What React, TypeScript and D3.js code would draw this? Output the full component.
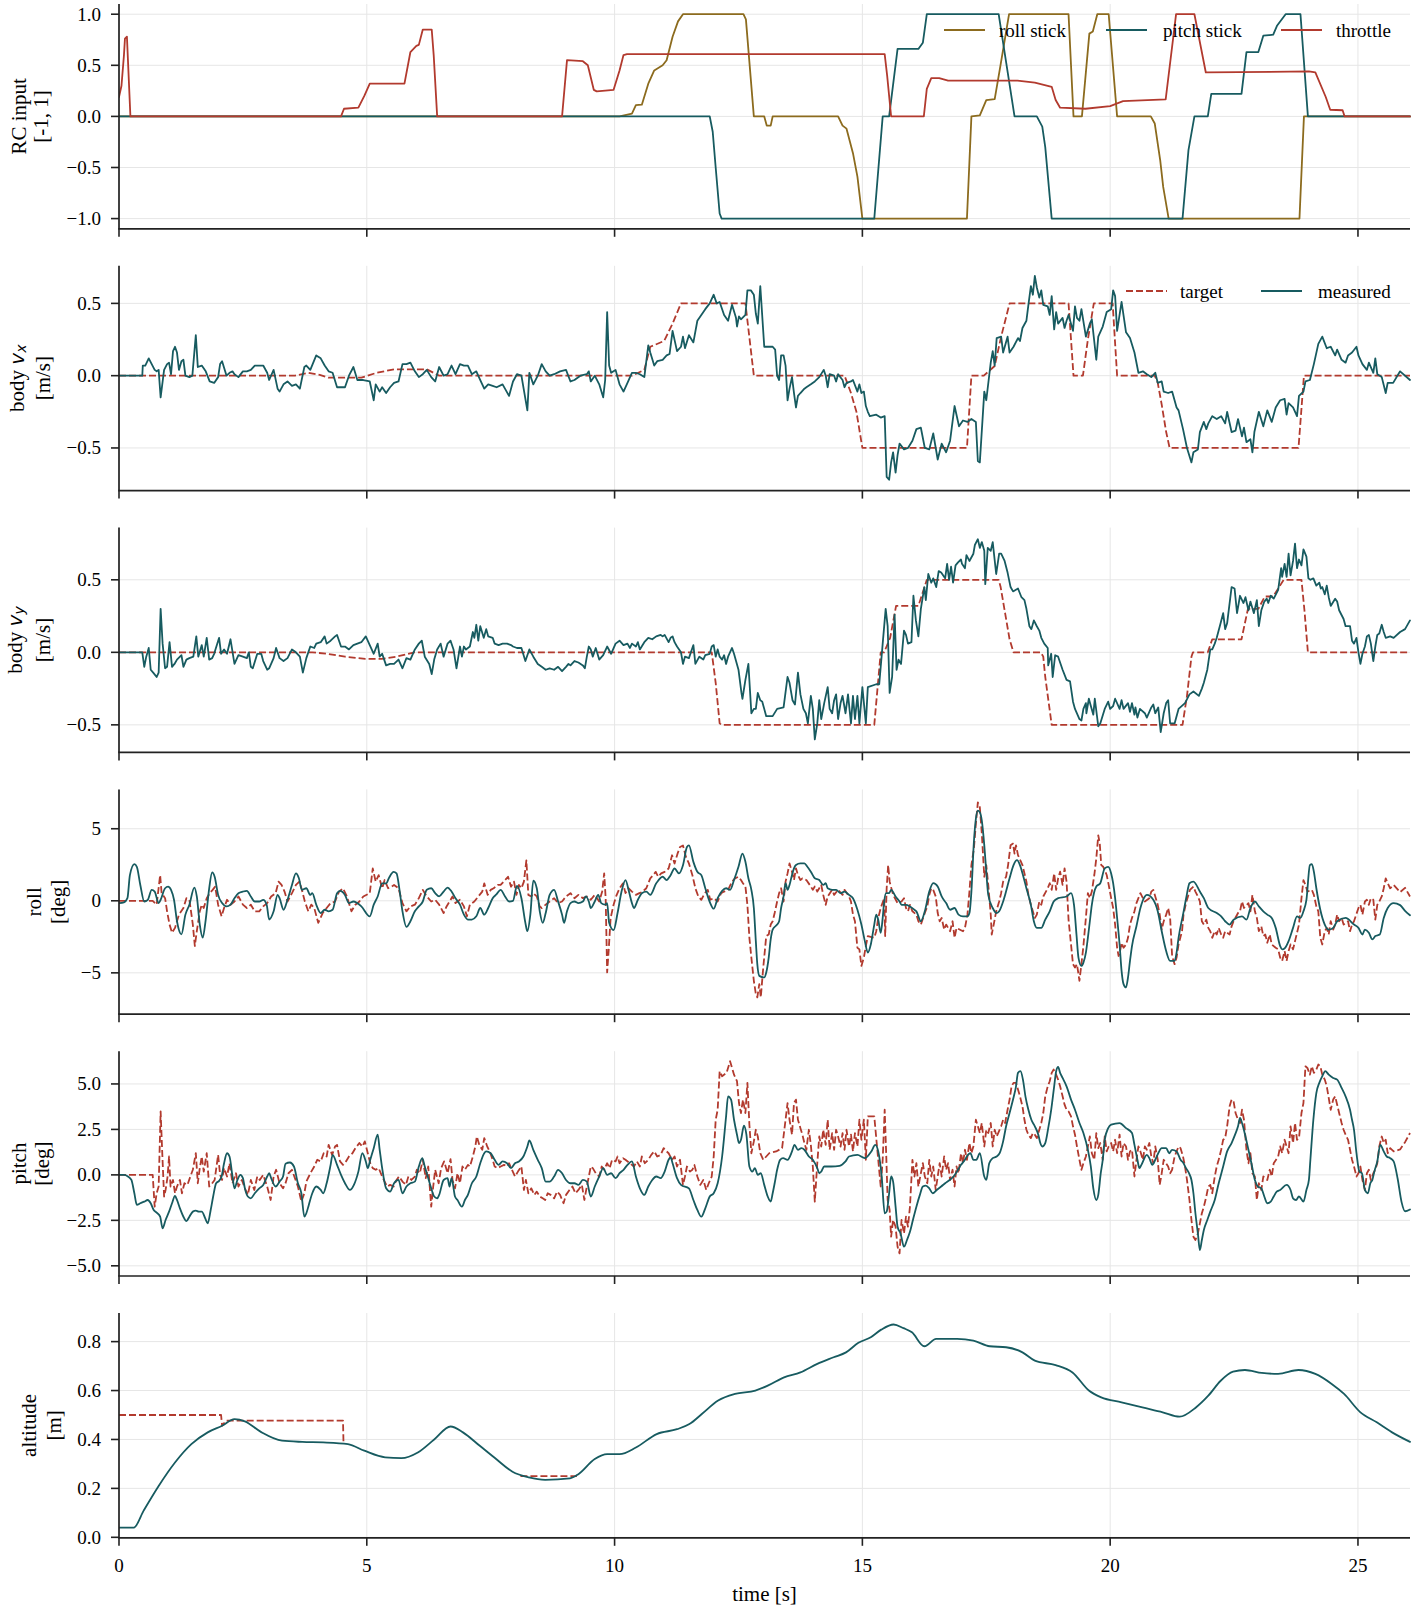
import React from 'react';
import * as d3 from 'd3';

type P = [number, number];

// ---------------- data ----------------
const timeTicks = [0, 5, 10, 15, 20, 25];
const timeMax = 26.05;

const rcTicks = [-1, -0.5, 0, 0.5, 1];
const vxTicks = [-0.5, 0, 0.5];
const vyTicks = [-0.5, 0, 0.5];
const rollTicks = [-5, 0, 5];
const pitchTicks = [-5, -2.5, 0, 2.5, 5];
const altTicks = [0, 0.2, 0.4, 0.6, 0.8];

const rollStick: P[] = [[0,0],[10.1,0],[10.35,0.026],[10.43,0.11],[10.55,0.115],[10.68,0.32],[10.8,0.45],[10.97,0.5],[11.05,0.55],[11.17,0.78],[11.28,0.93],[11.38,1],[12.6,1],[12.65,0.95],[12.81,0],[13.02,0],[13.07,-0.09],[13.15,-0.09],[13.19,0],[14.51,0],[14.6,-0.09],[14.68,-0.12],[14.81,-0.36],[14.9,-0.59],[15,-1],[17.11,-1],[17.2,0],[17.37,0.01],[17.5,0.16],[17.67,0.17],[17.78,0.48],[17.96,1],[19.16,1],[19.26,0],[19.43,0],[19.58,0.81],[19.65,0.83],[19.74,1],[19.97,1],[20.14,0],[20.82,0],[20.9,-0.07],[21.01,-0.43],[21.07,-0.69],[21.18,-1],[23.82,-1],[23.91,0],[26.05,0]];

const pitchStick: P[] = [[0,0],[11.92,0],[11.98,-0.15],[12.04,-0.5],[12.12,-0.95],[12.16,-1],[15.24,-1],[15.41,0],[15.54,0],[15.71,0.66],[16.13,0.66],[16.22,0.72],[16.3,1],[17.75,1],[18.07,0],[18.52,0],[18.63,-0.1],[18.69,-0.3],[18.82,-1],[21.46,-1],[21.58,-0.33],[21.7,0],[21.97,0],[22.04,0.22],[22.65,0.22],[22.75,0.63],[22.99,0.63],[23.09,0.79],[23.29,0.8],[23.37,0.89],[23.54,1],[23.84,1],[23.99,0],[26.05,0]];

const throttle: P[] = [[0,0.19],[0.05,0.3],[0.1,0.6],[0.12,0.76],[0.16,0.78],[0.23,0],[4.48,0],[4.54,0.075],[4.83,0.085],[4.95,0.2],[5.06,0.32],[5.76,0.32],[5.88,0.63],[6.0,0.69],[6.05,0.7],[6.13,0.85],[6.31,0.85],[6.35,0.6],[6.42,0],[8.94,0],[9.04,0.55],[9.36,0.54],[9.46,0.5],[9.58,0.26],[9.64,0.245],[9.98,0.26],[10.1,0.45],[10.18,0.6],[10.25,0.61],[12.0,0.61],[15.45,0.61],[15.5,0.4],[15.58,0],[16.24,0],[16.3,0.27],[16.39,0.375],[16.55,0.375],[16.73,0.35],[18.13,0.35],[18.48,0.33],[18.82,0.29],[18.9,0.16],[18.99,0.085],[19.5,0.075],[20.0,0.1],[20.26,0.15],[21.12,0.166],[21.33,1],[21.7,1],[21.93,0.43],[24.01,0.44],[24.14,0.43],[24.35,0.19],[24.44,0.065],[24.69,0.06],[24.73,0],[26.05,0]];

const vxTarget: P[] = [[0,0],[3.55,0],[3.82,0.02],[4.05,0.005],[4.23,-0.014],[4.89,-0.014],[5.2,0.02],[5.55,0.044],[6.21,0.044],[6.46,0],[10.35,0],[10.6,0.04],[10.72,0.2],[11.0,0.24],[11.17,0.36],[11.34,0.5],[12.64,0.5],[12.81,0],[14.64,0],[14.77,-0.12],[14.88,-0.25],[15.0,-0.5],[17.11,-0.5],[17.2,0],[17.45,0],[17.67,0.067],[17.8,0.27],[17.97,0.5],[19.16,0.5],[19.26,0],[19.45,0],[19.55,0.25],[19.67,0.5],[20.05,0.5],[20.14,0],[20.9,0],[20.96,-0.05],[21.04,-0.2],[21.13,-0.39],[21.2,-0.5],[23.8,-0.5],[23.91,0],[26.05,0]];

const vxMeasured: P[] = [[0,0],[0.47,0],[0.48,0.07],[0.53,0.07],[0.6,0.12],[0.66,0.08],[0.72,0.04],[0.76,0.03],[0.8,0.04],[0.84,-0.15],[0.91,0.04],[0.97,0.08],[1.01,0.09],[1.05,0.01],[1.09,0.17],[1.13,0.2],[1.17,0.16],[1.21,0.04],[1.26,0.1],[1.3,0.11],[1.34,0],[1.42,-0.01],[1.48,0],[1.55,0.28],[1.59,0.06],[1.67,0.07],[1.75,0.03],[1.83,-0.04],[1.92,-0.05],[2,-0.01],[2.04,0.08],[2.08,0.1],[2.17,0],[2.23,0.02],[2.29,0.03],[2.33,0.01],[2.41,-0.01],[2.5,0.03],[2.58,0.03],[2.66,0.04],[2.74,0.07],[2.83,0.07],[2.91,0.07],[2.99,0.02],[3.03,-0.03],[3.12,0.04],[3.2,-0.09],[3.24,-0.11],[3.32,-0.06],[3.4,-0.04],[3.49,-0.07],[3.57,-0.06],[3.65,-0.09],[3.74,0.06],[3.78,0.07],[3.86,0.04],[3.98,0.14],[4.07,0.12],[4.15,0.07],[4.23,0.03],[4.31,0.02],[4.4,-0.08],[4.48,-0.08],[4.56,-0.08],[4.64,0],[4.73,0.06],[4.81,-0.03],[4.93,-0.03],[5.06,-0.04],[5.14,-0.17],[5.18,-0.06],[5.26,-0.11],[5.31,-0.08],[5.39,-0.12],[5.47,-0.08],[5.55,-0.05],[5.64,-0.04],[5.72,0.08],[5.8,0.08],[5.88,0.09],[5.97,0.03],[6.05,-0.01],[6.13,0.01],[6.21,0.04],[6.3,-0.01],[6.38,-0.04],[6.46,0.06],[6.55,0],[6.63,0.01],[6.71,0.07],[6.79,0.01],[6.88,0.08],[6.96,0.07],[7.04,0.07],[7.12,0.01],[7.21,0.03],[7.29,-0.03],[7.37,-0.09],[7.45,-0.06],[7.54,-0.07],[7.62,-0.08],[7.74,-0.06],[7.87,-0.14],[7.95,-0.04],[8.03,0.01],[8.12,0],[8.24,-0.24],[8.28,0.02],[8.36,-0.06],[8.45,0],[8.53,0.08],[8.61,0.03],[8.69,0],[8.78,0.01],[8.9,0.03],[9.02,0.04],[9.11,-0.04],[9.19,-0.03],[9.31,0],[9.44,0.01],[9.48,0.03],[9.52,-0.04],[9.6,0],[9.69,-0.06],[9.77,-0.15],[9.81,-0.03],[9.85,0.44],[9.89,0.07],[9.93,0.02],[10.02,0.04],[10.1,-0.06],[10.18,-0.11],[10.26,-0.05],[10.35,0.02],[10.43,0.02],[10.51,0.01],[10.6,-0.01],[10.68,0.21],[10.72,0.16],[10.8,0.07],[10.86,0.1],[10.97,0.11],[11.05,0.14],[11.11,0.15],[11.17,0.31],[11.26,0.17],[11.34,0.2],[11.38,0.27],[11.42,0.19],[11.5,0.28],[11.59,0.23],[11.67,0.38],[11.75,0.42],[11.83,0.46],[11.92,0.5],[12,0.56],[12.06,0.5],[12.12,0.51],[12.21,0.42],[12.29,0.38],[12.37,0.49],[12.45,0.4],[12.47,0.34],[12.51,0.41],[12.55,0.39],[12.64,0.42],[12.68,0.59],[12.75,0.59],[12.81,0.56],[12.85,0.43],[12.89,0.36],[12.94,0.62],[13.02,0.2],[13.07,0.2],[13.19,0.2],[13.24,0.18],[13.28,0],[13.32,-0.03],[13.36,0.14],[13.41,0.14],[13.45,0.07],[13.49,-0.17],[13.53,-0.09],[13.58,-0.01],[13.62,-0.12],[13.66,-0.22],[13.7,-0.14],[13.75,-0.12],[13.83,-0.09],[13.87,-0.08],[13.96,-0.06],[14.04,-0.04],[14.13,-0.01],[14.22,0.04],[14.26,0],[14.3,-0.08],[14.34,0.01],[14.43,0],[14.47,-0.04],[14.51,0.01],[14.6,-0.03],[14.64,-0.08],[14.68,-0.05],[14.77,-0.04],[14.81,-0.03],[14.9,-0.11],[14.94,-0.06],[14.98,-0.12],[15.03,-0.11],[15.07,-0.21],[15.11,-0.25],[15.15,-0.28],[15.28,-0.27],[15.37,-0.29],[15.45,-0.28],[15.49,-0.7],[15.54,-0.72],[15.58,-0.6],[15.62,-0.53],[15.67,-0.67],[15.71,-0.55],[15.75,-0.47],[15.84,-0.51],[15.92,-0.5],[16.01,-0.45],[16.09,-0.37],[16.18,-0.36],[16.26,-0.5],[16.35,-0.51],[16.43,-0.4],[16.52,-0.58],[16.6,-0.47],[16.69,-0.53],[16.77,-0.45],[16.86,-0.21],[16.95,-0.35],[17.03,-0.31],[17.12,-0.32],[17.2,-0.3],[17.29,-0.32],[17.33,-0.59],[17.37,-0.6],[17.46,-0.11],[17.5,-0.17],[17.59,0.09],[17.63,0.17],[17.67,0.07],[17.71,0.26],[17.8,0.27],[17.84,0.16],[17.93,0.27],[17.97,0.16],[18.05,0.2],[18.14,0.26],[18.18,0.24],[18.23,0.33],[18.31,0.38],[18.35,0.49],[18.4,0.62],[18.44,0.56],[18.48,0.69],[18.52,0.61],[18.57,0.54],[18.61,0.59],[18.65,0.49],[18.74,0.48],[18.78,0.42],[18.82,0.55],[18.87,0.32],[18.91,0.44],[18.95,0.36],[19.04,0.4],[19.08,0.33],[19.12,0.38],[19.16,0.42],[19.25,0.31],[19.29,0.48],[19.33,0.4],[19.38,0.38],[19.42,0.46],[19.51,0.27],[19.59,0.36],[19.63,0.39],[19.72,0.11],[19.76,0.27],[19.85,0.34],[19.93,0.44],[20.02,0.46],[20.06,0.59],[20.1,0.55],[20.14,0.31],[20.23,0.51],[20.32,0.3],[20.4,0.26],[20.49,0.16],[20.57,0.02],[20.66,0.03],[20.74,0.01],[20.83,-0.01],[20.91,0.02],[20.96,-0.05],[21.04,-0.04],[21.08,-0.11],[21.17,-0.12],[21.25,-0.11],[21.34,-0.22],[21.38,-0.24],[21.47,-0.37],[21.55,-0.5],[21.64,-0.6],[21.68,-0.53],[21.77,-0.51],[21.81,-0.39],[21.89,-0.32],[21.94,-0.37],[21.98,-0.33],[22.06,-0.28],[22.15,-0.3],[22.24,-0.28],[22.32,-0.33],[22.36,-0.25],[22.45,-0.39],[22.53,-0.38],[22.58,-0.3],[22.66,-0.42],[22.7,-0.36],[22.75,-0.46],[22.83,-0.44],[22.87,-0.53],[22.91,-0.39],[23,-0.25],[23.09,-0.35],[23.17,-0.24],[23.26,-0.32],[23.34,-0.22],[23.43,-0.17],[23.52,-0.16],[23.56,-0.27],[23.6,-0.19],[23.69,-0.22],[23.77,-0.28],[23.81,-0.14],[23.9,-0.11],[23.94,-0.04],[24.03,-0.03],[24.11,0.08],[24.2,0.22],[24.28,0.27],[24.37,0.19],[24.45,0.2],[24.54,0.14],[24.58,0.18],[24.67,0.11],[24.75,0.09],[24.8,0.14],[24.88,0.16],[24.97,0.2],[25.01,0.14],[25.09,0.08],[25.18,0.04],[25.22,0.09],[25.31,0.02],[25.35,0.12],[25.39,0.01],[25.48,-0.01],[25.56,-0.12],[25.6,-0.05],[25.71,-0.05],[25.85,0.03],[26.05,-0.03]];

const vyTarget: P[] = [[0,0],[3.9,0],[4.2,-0.01],[4.56,-0.03],[4.97,-0.045],[5.3,-0.045],[5.6,-0.03],[5.96,0],[11.96,0],[12.04,-0.21],[12.12,-0.49],[12.16,-0.5],[15.24,-0.5],[15.37,0],[15.44,0],[15.56,0.1],[15.68,0.32],[16.13,0.32],[16.3,0.5],[17.75,0.5],[17.79,0.45],[17.88,0.27],[17.97,0.09],[18.05,0],[18.6,0],[18.65,-0.03],[18.69,-0.17],[18.82,-0.5],[21.46,-0.5],[21.55,-0.3],[21.64,-0.03],[21.67,0],[21.97,0],[22.06,0.09],[22.65,0.09],[22.78,0.3],[22.99,0.3],[23.12,0.385],[23.29,0.385],[23.5,0.5],[23.86,0.5],[23.92,0.29],[23.99,0],[26.05,0]];

const vyMeasured: P[] = [[0,0],[0.47,0],[0.51,-0.1],[0.55,-0.03],[0.6,0.03],[0.64,-0.12],[0.69,-0.14],[0.76,-0.17],[0.8,-0.14],[0.84,0.3],[0.88,0.06],[0.93,-0.11],[0.97,-0.1],[1.02,0.07],[1.07,-0.1],[1.12,-0.08],[1.17,-0.05],[1.26,-0.02],[1.3,-0.1],[1.36,-0.05],[1.42,-0.04],[1.5,-0.03],[1.56,0.11],[1.6,-0.03],[1.67,0.05],[1.71,-0.03],[1.77,0.1],[1.82,-0.05],[1.88,-0.04],[1.92,-0.01],[2.02,0.1],[2.06,-0.01],[2.12,0.02],[2.18,-0.01],[2.25,0.09],[2.33,-0.08],[2.41,-0.02],[2.5,-0.03],[2.58,-0.04],[2.62,0],[2.66,-0.1],[2.7,-0.11],[2.79,-0.01],[2.87,-0.01],[2.91,-0.06],[2.99,-0.12],[3.03,-0.11],[3.12,-0.04],[3.17,0.03],[3.24,-0.04],[3.32,-0.06],[3.4,-0.04],[3.49,0.02],[3.57,0],[3.65,-0.03],[3.71,-0.14],[3.78,-0.04],[3.86,0.04],[3.94,0.03],[3.98,0.06],[4.07,0.07],[4.15,0.11],[4.19,0.06],[4.27,0.08],[4.36,0.11],[4.4,0.12],[4.48,0.04],[4.56,0.04],[4.64,0.02],[4.73,0.05],[4.81,0.06],[4.89,0.07],[4.98,0.11],[5.06,0.05],[5.14,-0.01],[5.22,0.06],[5.26,-0.03],[5.31,-0.01],[5.39,-0.09],[5.47,-0.08],[5.55,-0.08],[5.64,-0.05],[5.72,-0.11],[5.8,-0.04],[5.88,-0.05],[5.97,0.02],[6.05,0.06],[6.11,0.08],[6.17,-0.03],[6.26,-0.08],[6.31,-0.15],[6.36,-0.05],[6.42,0.02],[6.49,0.06],[6.55,-0.03],[6.63,0.06],[6.69,0.08],[6.75,0.02],[6.81,-0.11],[6.88,0.04],[6.92,-0.03],[6.96,0.04],[7,0.02],[7.08,0.04],[7.14,0.14],[7.17,0.1],[7.21,0.19],[7.25,0.08],[7.29,0.18],[7.36,0.1],[7.41,0.16],[7.45,0.11],[7.54,0.1],[7.58,0.06],[7.66,0.05],[7.74,0.06],[7.83,0.06],[7.91,0.05],[7.95,0.04],[8.03,0.03],[8.12,0.03],[8.2,-0.06],[8.28,0.02],[8.36,-0.03],[8.45,-0.08],[8.53,-0.1],[8.61,-0.12],[8.69,-0.11],[8.78,-0.12],[8.86,-0.1],[8.94,-0.13],[9.02,-0.1],[9.07,-0.08],[9.11,-0.09],[9.19,-0.06],[9.27,-0.07],[9.36,-0.09],[9.4,-0.11],[9.44,-0.03],[9.48,0.04],[9.52,0.02],[9.56,-0.03],[9.62,0.03],[9.69,-0.05],[9.77,-0.02],[9.85,0.04],[9.93,-0.01],[10.02,0.06],[10.1,0.08],[10.18,0.05],[10.26,0.06],[10.31,0.03],[10.35,0.06],[10.43,0.04],[10.47,0.07],[10.51,0.02],[10.6,0.07],[10.68,0.1],[10.76,0.09],[10.84,0.11],[10.93,0.12],[10.97,0.11],[11.01,0.12],[11.09,0.07],[11.13,0.1],[11.17,0.11],[11.21,0.07],[11.26,0.04],[11.34,0],[11.38,-0.08],[11.42,-0.03],[11.5,-0.04],[11.59,0.05],[11.63,-0.08],[11.71,-0.03],[11.79,-0.05],[11.83,-0.02],[11.92,-0.01],[11.96,0.04],[12,0.05],[12.04,-0.03],[12.08,0.02],[12.12,-0.03],[12.17,-0.05],[12.21,-0.02],[12.25,-0.08],[12.29,-0.03],[12.37,0.03],[12.41,-0.01],[12.5,-0.12],[12.56,-0.28],[12.58,-0.32],[12.64,-0.19],[12.7,-0.08],[12.76,-0.42],[12.81,-0.39],[12.85,-0.39],[12.89,-0.28],[12.94,-0.33],[12.98,-0.34],[13.06,-0.44],[13.19,-0.44],[13.28,-0.39],[13.41,-0.38],[13.49,-0.17],[13.53,-0.21],[13.59,-0.33],[13.64,-0.36],[13.7,-0.14],[13.75,-0.29],[13.81,-0.39],[13.86,-0.42],[13.9,-0.49],[13.96,-0.3],[14,-0.39],[14.04,-0.6],[14.09,-0.49],[14.13,-0.33],[14.17,-0.46],[14.23,-0.35],[14.3,-0.24],[14.34,-0.39],[14.39,-0.42],[14.43,-0.33],[14.47,-0.29],[14.51,-0.46],[14.56,-0.35],[14.6,-0.3],[14.66,-0.42],[14.71,-0.29],[14.77,-0.49],[14.81,-0.3],[14.85,-0.46],[14.9,-0.3],[14.94,-0.49],[15,-0.24],[15.07,-0.49],[15.11,-0.24],[15.28,-0.22],[15.34,-0.22],[15.41,0.06],[15.47,0.3],[15.51,0.18],[15.55,-0.28],[15.6,-0.17],[15.65,0.26],[15.69,-0.12],[15.73,-0.05],[15.78,-0.08],[15.84,0.15],[15.88,0.12],[15.92,0.06],[15.99,0.07],[16.03,0.39],[16.08,0.22],[16.13,0.11],[16.18,0.3],[16.25,0.45],[16.28,0.36],[16.33,0.54],[16.39,0.48],[16.43,0.51],[16.49,0.45],[16.54,0.56],[16.59,0.55],[16.67,0.51],[16.71,0.61],[16.75,0.5],[16.79,0.59],[16.83,0.48],[16.88,0.6],[16.93,0.62],[16.99,0.64],[17.01,0.61],[17.07,0.58],[17.1,0.67],[17.16,0.63],[17.24,0.68],[17.27,0.74],[17.33,0.78],[17.37,0.72],[17.41,0.76],[17.46,0.7],[17.48,0.47],[17.53,0.72],[17.59,0.7],[17.63,0.76],[17.7,0.54],[17.76,0.68],[17.8,0.68],[17.87,0.63],[17.93,0.55],[17.99,0.45],[18.04,0.42],[18.14,0.44],[18.21,0.38],[18.27,0.36],[18.31,0.3],[18.37,0.18],[18.41,0.16],[18.46,0.22],[18.52,0.18],[18.57,0.15],[18.61,0.1],[18.67,0.06],[18.74,0.03],[18.75,-0.09],[18.81,-0.01],[18.84,-0.17],[18.89,-0.02],[18.95,-0.03],[19.04,-0.12],[19.12,-0.19],[19.19,-0.2],[19.25,-0.34],[19.29,-0.39],[19.38,-0.46],[19.42,-0.47],[19.46,-0.39],[19.51,-0.35],[19.52,-0.42],[19.57,-0.32],[19.61,-0.37],[19.66,-0.43],[19.69,-0.32],[19.76,-0.51],[19.8,-0.49],[19.89,-0.39],[19.96,-0.34],[20,-0.39],[20.06,-0.37],[20.1,-0.32],[20.19,-0.39],[20.23,-0.33],[20.27,-0.39],[20.36,-0.35],[20.4,-0.41],[20.44,-0.35],[20.49,-0.43],[20.51,-0.38],[20.55,-0.45],[20.6,-0.39],[20.7,-0.42],[20.74,-0.45],[20.83,-0.38],[20.87,-0.36],[20.91,-0.42],[20.97,-0.38],[21.02,-0.55],[21.08,-0.42],[21.13,-0.35],[21.17,-0.33],[21.21,-0.49],[21.3,-0.49],[21.38,-0.39],[21.51,-0.35],[21.6,-0.29],[21.68,-0.27],[21.79,-0.3],[21.85,-0.25],[21.89,-0.21],[21.96,-0.12],[22.02,0.02],[22.06,0.02],[22.11,0.06],[22.15,0.1],[22.22,0.19],[22.28,0.27],[22.32,0.16],[22.36,0.2],[22.45,0.45],[22.51,0.44],[22.56,0.27],[22.62,0.39],[22.69,0.34],[22.73,0.38],[22.79,0.29],[22.83,0.35],[22.9,0.27],[22.96,0.36],[23,0.18],[23.05,0.29],[23.11,0.35],[23.16,0.37],[23.19,0.34],[23.24,0.39],[23.3,0.37],[23.39,0.43],[23.45,0.58],[23.47,0.52],[23.52,0.61],[23.56,0.52],[23.6,0.68],[23.64,0.53],[23.69,0.63],[23.73,0.75],[23.77,0.58],[23.81,0.64],[23.86,0.6],[23.9,0.71],[23.96,0.66],[24,0.51],[24.04,0.5],[24.1,0.51],[24.16,0.46],[24.22,0.48],[24.25,0.44],[24.28,0.45],[24.33,0.4],[24.37,0.46],[24.41,0.38],[24.45,0.32],[24.54,0.37],[24.58,0.35],[24.62,0.29],[24.71,0.23],[24.75,0.18],[24.84,0.18],[24.88,0.08],[24.92,0.06],[24.97,0.1],[25.01,0],[25.05,-0.08],[25.09,-0.01],[25.14,0.04],[25.18,0.11],[25.22,0.12],[25.26,0.06],[25.31,-0.06],[25.35,0.04],[25.39,0.12],[25.43,0.13],[25.48,0.19],[25.52,0.14],[25.56,0.1],[25.65,0.11],[25.72,0.1],[25.85,0.14],[25.95,0.16],[26.05,0.22]];

const rollTarget: P[] = [[0,0],[0.68,0],[0.76,-0.27],[0.83,1.78],[0.86,0.53],[0.93,0.18],[0.97,-0.73],[1.02,-1.65],[1.07,-2.22],[1.13,-1.88],[1.17,-1.42],[1.21,-0.96],[1.3,-0.5],[1.36,0.18],[1.42,0.07],[1.49,-1.65],[1.53,-3.14],[1.57,-2.11],[1.63,-0.73],[1.67,-0.27],[1.71,-0.5],[1.77,0.18],[1.83,0.53],[1.89,0.76],[1.94,0.98],[2,-0.27],[2.07,-1.08],[2.12,-0.5],[2.18,0.07],[2.25,-0.27],[2.33,-0.05],[2.41,0.3],[2.5,-0.27],[2.58,-0.5],[2.66,-0.27],[2.74,-0.73],[2.83,-0.73],[2.91,-0.39],[2.99,-0.16],[3.07,0.3],[3.16,0.53],[3.22,1.33],[3.28,1.1],[3.34,0.64],[3.4,-0.05],[3.49,0.53],[3.57,1.1],[3.64,1.33],[3.69,0.76],[3.75,-0.05],[3.82,-0.73],[3.88,-0.27],[3.94,-0.5],[4.02,-1.53],[4.11,-0.85],[4.19,-0.5],[4.27,-0.16],[4.36,-0.05],[4.44,0.64],[4.52,0.87],[4.6,0.3],[4.69,-0.73],[4.77,-0.27],[4.85,-0.05],[4.93,0.3],[5.06,0.53],[5.12,2.24],[5.18,1.33],[5.24,1.78],[5.31,0.87],[5.36,1.44],[5.43,0.87],[5.5,0.98],[5.55,1.1],[5.64,0.87],[5.72,-0.16],[5.8,-0.73],[5.88,-0.39],[5.97,-0.27],[6.05,0.18],[6.13,0.76],[6.21,0.3],[6.3,-0.05],[6.38,0.07],[6.46,-0.27],[6.55,-0.85],[6.61,-0.39],[6.67,-0.05],[6.73,0.3],[6.79,-0.16],[6.88,0.07],[6.96,-0.39],[7.02,-1.08],[7.08,-0.27],[7.17,-0.05],[7.25,0.3],[7.33,0.64],[7.37,1.21],[7.44,0.41],[7.5,0.76],[7.56,0.87],[7.64,1.1],[7.7,1.1],[7.79,1.44],[7.85,1.67],[7.91,0.98],[7.97,1.33],[8.02,0.41],[8.07,1.1],[8.12,0.87],[8.17,1.33],[8.22,2.81],[8.26,0.41],[8.32,0.3],[8.36,0.53],[8.43,0.3],[8.49,-0.39],[8.53,-0.5],[8.61,-0.27],[8.69,-0.05],[8.78,0.18],[8.86,-0.16],[8.94,-0.05],[9.02,0.3],[9.11,0.53],[9.19,0.18],[9.27,0.41],[9.36,0.18],[9.44,0.3],[9.52,0.07],[9.6,0.41],[9.69,-0.05],[9.75,0.64],[9.79,1.9],[9.82,0.18],[9.85,-4.97],[9.88,-3.48],[9.92,-1.19],[9.98,-0.27],[10.03,0.3],[10.1,0.87],[10.17,1.21],[10.22,0.53],[10.28,0.87],[10.35,0.64],[10.43,0.41],[10.5,0.53],[10.55,0.59],[10.64,0.87],[10.72,1.56],[10.78,1.78],[10.83,2.01],[10.88,1.67],[10.94,1.9],[11.01,2.01],[11.09,2.24],[11.16,3.16],[11.21,2.59],[11.27,3.27],[11.32,3.73],[11.38,3.84],[11.44,3.04],[11.5,2.59],[11.57,1.78],[11.63,0.87],[11.69,0.3],[11.75,0.07],[11.82,0.53],[11.88,0.76],[11.93,0.07],[12,0.18],[12.08,-0.05],[12.15,0.53],[12.21,0.64],[12.29,0.76],[12.37,1.33],[12.43,1.56],[12.5,1.67],[12.55,1.44],[12.59,1.22],[12.64,0.99],[12.68,-0.28],[12.72,-2.57],[12.76,-3.94],[12.81,-5.55],[12.85,-6.47],[12.88,-6.7],[12.92,-5.78],[12.95,-6.7],[13,-4.63],[13.06,-2.45],[13.11,-2.34],[13.15,-1.65],[13.19,-1.42],[13.23,-0.85],[13.28,-0.05],[13.32,0.53],[13.36,0.87],[13.41,-0.05],[13.45,1.33],[13.49,1.9],[13.53,2.59],[13.58,2.02],[13.62,1.44],[13.66,2.25],[13.7,1.79],[13.75,1.44],[13.79,1.56],[13.87,1.44],[13.96,0.99],[14,0.76],[14.04,0.99],[14.09,0.64],[14.13,0.87],[14.17,1.1],[14.21,0.41],[14.26,-0.28],[14.3,0.3],[14.39,0.76],[14.43,0.41],[14.51,0.76],[14.6,0.41],[14.64,0.76],[14.73,0.3],[14.77,-0.05],[14.81,-0.96],[14.85,-1.42],[14.9,-3.26],[14.94,-3.37],[14.98,-4.52],[15.03,-3.94],[15.07,-3.14],[15.11,-2.45],[15.24,-2.57],[15.28,-2.11],[15.32,-1.19],[15.37,-0.5],[15.44,0.18],[15.46,-2.45],[15.49,0.87],[15.52,2.48],[15.55,1.33],[15.62,0.41],[15.71,-0.16],[15.79,-0.05],[15.84,0.18],[15.88,-0.5],[15.92,-0.73],[15.96,-0.28],[16.01,-0.73],[16.09,-0.96],[16.13,-1.42],[16.18,-1.65],[16.26,-0.85],[16.31,-0.39],[16.35,0.41],[16.39,0.87],[16.43,0.76],[16.48,0.3],[16.52,-0.85],[16.56,-1.42],[16.6,-1.19],[16.65,-2],[16.69,-1.65],[16.77,-2.11],[16.82,-1.42],[16.86,-2.57],[16.9,-1.88],[17.03,-2.11],[17.07,-1.88],[17.12,-0.96],[17.16,0.64],[17.2,2.48],[17.25,3.62],[17.29,5.34],[17.33,6.83],[17.37,6.49],[17.41,4.66],[17.46,1.67],[17.5,2.48],[17.54,1.1],[17.59,-0.96],[17.61,-2.34],[17.65,-1.65],[17.7,-0.73],[17.76,-0.05],[17.8,0.53],[17.84,1.33],[17.9,1.67],[17.94,2.48],[17.99,3.85],[18.04,3.97],[18.07,3.28],[18.1,3.85],[18.14,3.17],[18.23,2.48],[18.31,1.33],[18.35,0.41],[18.4,-0.28],[18.44,-0.73],[18.48,-1.19],[18.52,-0.96],[18.57,-0.05],[18.61,-0.28],[18.65,0.3],[18.74,0.87],[18.78,1.22],[18.82,0.76],[18.87,1.9],[18.91,0.76],[18.95,1.56],[18.99,2.02],[19.04,1.1],[19.08,2.25],[19.12,1.33],[19.16,-1.31],[19.21,-3.03],[19.25,-4.4],[19.29,-4.63],[19.33,-4.4],[19.38,-5.55],[19.42,-4.4],[19.46,-3.14],[19.51,-1.19],[19.55,0.53],[19.59,0.18],[19.63,0.64],[19.68,1.79],[19.72,2.94],[19.76,4.54],[19.79,3.97],[19.82,2.48],[19.86,2.36],[19.93,1.79],[19.97,1.1],[20.02,0.18],[20.06,-0.5],[20.1,-1.65],[20.14,-3.26],[20.17,-3.83],[20.2,-3.49],[20.23,-2.91],[20.27,-3.26],[20.32,-3.03],[20.36,-2.57],[20.4,-1.65],[20.44,-1.19],[20.49,-0.73],[20.53,-0.16],[20.57,0.18],[20.61,0.53],[20.66,0.18],[20.7,-0.05],[20.79,0.18],[20.83,0.64],[20.87,0.76],[20.91,0.3],[20.96,-0.28],[21,-0.96],[21.04,-2],[21.08,-1.42],[21.13,-0.96],[21.17,-0.5],[21.21,-1.19],[21.25,-3.83],[21.3,-4.4],[21.34,-3.94],[21.38,-3.03],[21.45,-2.11],[21.48,-0.96],[21.53,-0.16],[21.57,0.3],[21.61,0.76],[21.68,0.99],[21.72,0.64],[21.77,0.3],[21.81,-0.05],[21.85,-1.42],[21.89,-1.65],[21.94,-1.31],[21.98,-1.88],[22.02,-2.11],[22.06,-2.57],[22.11,-2.11],[22.15,-2.34],[22.19,-1.88],[22.24,-2.34],[22.28,-2.57],[22.32,-2.11],[22.41,-2.34],[22.45,-1.77],[22.49,-1.42],[22.58,-0.85],[22.62,-0.73],[22.66,-0.05],[22.7,-0.5],[22.79,-0.16],[22.83,-0.73],[22.87,0.41],[22.92,-0.73],[22.96,-1.19],[23,-2.11],[23.05,-1.77],[23.09,-2.45],[23.13,-2.34],[23.17,-2.91],[23.22,-2.34],[23.26,-3.03],[23.34,-3.26],[23.39,-3.37],[23.43,-3.94],[23.47,-4.17],[23.52,-3.49],[23.56,-4.17],[23.6,-3.49],[23.64,-3.03],[23.69,-3.37],[23.73,-2.8],[23.77,-2.22],[23.81,-1.65],[23.86,0.18],[23.9,1.44],[23.94,1.1],[23.98,0.64],[24.07,0.76],[24.11,0.41],[24.16,-0.39],[24.2,-0.73],[24.24,-2.57],[24.28,-3.03],[24.33,-2.11],[24.37,-1.88],[24.41,-2.34],[24.45,-1.42],[24.5,-2],[24.54,-1.65],[24.58,-0.96],[24.62,-1.42],[24.67,-1.19],[24.71,-1.65],[24.8,-1.42],[24.84,-2.11],[24.88,-1.65],[24.92,-1.42],[25.01,-0.5],[25.05,-0.28],[25.09,-0.96],[25.14,-0.05],[25.18,0.07],[25.22,-0.28],[25.26,0.18],[25.31,0.07],[25.35,-1.31],[25.39,-0.28],[25.43,-0.05],[25.48,0.3],[25.52,0.87],[25.56,1.56],[25.6,1.22],[25.65,0.87],[25.72,1.1],[25.85,0.6],[25.95,0.9],[26.05,0.3]];

const rollMeasured: P[] = [[0,-0.16],[0.1,-0.11],[0.17,0.18],[0.22,1.78],[0.31,2.54],[0.36,2.36],[0.43,1.1],[0.51,-0.05],[0.58,0.07],[0.66,0.76],[0.72,0.64],[0.8,-0.16],[0.84,0.07],[0.93,0.87],[0.99,0.98],[1.05,0.76],[1.11,0.07],[1.17,-1.42],[1.26,-2.33],[1.34,-0.96],[1.42,-0.27],[1.52,0.92],[1.57,0.3],[1.63,-1.65],[1.69,-2.56],[1.75,-1.3],[1.82,0.87],[1.88,1.97],[1.93,1.67],[2,0.41],[2.08,-0.16],[2.17,-0.39],[2.25,-0.27],[2.33,0.18],[2.41,0.53],[2.5,0.64],[2.58,0.69],[2.66,0.3],[2.74,-0.05],[2.83,-0.05],[2.91,0.07],[2.98,-0.27],[3.03,-1.3],[3.12,-0.73],[3.2,0.41],[3.24,0.18],[3.32,-0.62],[3.4,0.07],[3.49,1.1],[3.57,1.9],[3.63,1.56],[3.69,0.76],[3.78,0.87],[3.86,0.41],[3.9,0.53],[3.98,-0.27],[4.07,-0.85],[4.15,-0.62],[4.23,-0.73],[4.31,-0.62],[4.4,0.53],[4.46,0.69],[4.56,0.41],[4.64,-0.16],[4.73,-0.05],[4.89,-0.39],[5.06,-1.08],[5.14,-0.27],[5.22,0.3],[5.31,1.21],[5.39,1.21],[5.45,1.6],[5.54,2.01],[5.6,1.9],[5.66,0.76],[5.72,-0.73],[5.8,-1.81],[5.88,-1.42],[5.97,-0.73],[6.05,-0.39],[6.13,-0.05],[6.21,0.76],[6.3,0.87],[6.38,0.53],[6.46,0.3],[6.55,0.64],[6.63,0.92],[6.71,0.64],[6.79,0.18],[6.88,-0.27],[6.96,-0.96],[7.04,-1.3],[7.12,-1.3],[7.21,-1.08],[7.29,-0.5],[7.37,-0.96],[7.45,-0.5],[7.54,0.18],[7.62,0.46],[7.7,0.76],[7.79,0.3],[7.87,-0.05],[7.95,0],[8.03,1.03],[8.12,0.18],[8.2,-1.53],[8.24,-2.11],[8.3,-0.96],[8.36,1.4],[8.43,0.87],[8.49,-0.73],[8.55,-1.53],[8.61,-0.85],[8.69,0.41],[8.78,0.76],[8.86,-0.05],[8.94,-0.96],[8.98,-1.53],[9.04,-0.73],[9.11,-0.16],[9.19,-0.05],[9.27,-0.16],[9.36,-0.05],[9.42,0.3],[9.48,-0.05],[9.52,-0.5],[9.6,-0.05],[9.67,0.41],[9.73,-0.16],[9.81,-0.27],[9.85,-0.16],[9.89,-1.53],[9.98,-2.04],[10.06,-0.85],[10.14,0.64],[10.22,1.44],[10.29,0.64],[10.35,-0.16],[10.39,-0.5],[10.47,0.07],[10.55,0.53],[10.64,0.64],[10.72,0.41],[10.84,1.21],[10.97,1.67],[11.05,1.44],[11.13,1.78],[11.21,2.24],[11.3,1.9],[11.38,2.47],[11.46,3.73],[11.5,3.84],[11.59,2.7],[11.67,2.01],[11.75,1.78],[11.83,0.87],[11.93,-0.16],[12,-0.55],[12.08,0.18],[12.17,0.69],[12.25,0.87],[12.33,0.76],[12.41,1.44],[12.5,2.36],[12.58,3.28],[12.64,2.71],[12.7,1.56],[12.76,0.76],[12.81,-0.5],[12.85,-2.8],[12.88,-4.4],[12.92,-5.21],[13.02,-5.32],[13.06,-4.98],[13.11,-3.94],[13.15,-2.68],[13.19,-2],[13.28,-1.65],[13.32,-1.42],[13.36,-0.5],[13.41,0.3],[13.45,1.22],[13.49,0.76],[13.53,1.1],[13.58,1.79],[13.62,2.25],[13.66,2.48],[13.75,2.59],[13.83,2.59],[13.89,2.36],[13.96,2.02],[14.04,1.56],[14.13,1.44],[14.21,1.1],[14.26,1.22],[14.3,0.87],[14.39,0.76],[14.47,0.76],[14.56,0.53],[14.64,0.64],[14.73,0.41],[14.81,0.18],[14.9,-0.62],[14.98,-1.65],[15.05,-2.8],[15.11,-3.6],[15.17,-3.03],[15.24,-1.65],[15.28,-0.96],[15.32,-1.31],[15.37,-2.22],[15.41,-1.19],[15.44,-0.05],[15.48,0.53],[15.54,0.53],[15.58,0.76],[15.67,0.3],[15.75,-0.05],[15.79,-0.28],[15.88,-0.28],[15.96,-0.39],[16.05,-0.62],[16.09,-0.73],[16.18,-1.42],[16.26,-0.73],[16.35,0.64],[16.43,1.22],[16.52,0.99],[16.6,0.3],[16.69,-0.16],[16.77,-0.62],[16.86,-0.5],[16.94,-0.96],[17.03,-1.08],[17.12,-1.08],[17.16,-0.85],[17.2,0.64],[17.25,4.08],[17.29,5.69],[17.33,6.26],[17.37,6.15],[17.41,5.57],[17.46,3.85],[17.5,2.02],[17.54,0.41],[17.63,-0.5],[17.71,-0.85],[17.76,-0.73],[17.84,-0.05],[17.88,0.41],[17.97,1.56],[18.05,2.48],[18.12,2.82],[18.18,2.48],[18.24,1.79],[18.31,0.87],[18.4,-0.28],[18.46,-1.42],[18.52,-1.88],[18.61,-1.88],[18.69,-1.31],[18.78,-0.73],[18.86,-0.05],[18.95,0.18],[19.12,0.3],[19.21,0.53],[19.27,-0.28],[19.32,-2.34],[19.36,-3.94],[19.42,-4.52],[19.46,-4.29],[19.51,-3.6],[19.55,-2.57],[19.59,-1.42],[19.63,-0.28],[19.72,0.99],[19.8,1.22],[19.89,2.25],[19.96,2.36],[20.02,1.9],[20.06,1.22],[20.1,0.18],[20.14,-1.19],[20.19,-3.03],[20.23,-4.86],[20.27,-5.78],[20.32,-6.01],[20.36,-5.32],[20.4,-4.17],[20.44,-3.14],[20.53,-1.77],[20.61,-0.5],[20.7,0.3],[20.74,0.41],[20.87,0.07],[20.96,-0.73],[21.04,-2.11],[21.13,-3.49],[21.21,-4.17],[21.3,-4.17],[21.34,-3.6],[21.38,-2.57],[21.47,-0.96],[21.54,0.3],[21.6,1.22],[21.68,1.33],[21.81,0.64],[21.89,0.18],[21.98,-0.5],[22.15,-0.85],[22.24,-1.08],[22.32,-1.42],[22.41,-1.65],[22.49,-1.31],[22.66,-1.08],[22.75,-1.31],[22.83,-0.5],[22.92,-0.05],[23,-0.39],[23.09,-0.73],[23.17,-0.96],[23.26,-1.19],[23.34,-1.88],[23.43,-3.14],[23.47,-3.37],[23.53,-3.26],[23.6,-2.8],[23.69,-1.88],[23.77,-1.08],[23.84,-1.19],[23.9,-0.73],[23.96,0.07],[24.03,2.48],[24.07,2.55],[24.11,2.02],[24.16,0.87],[24.24,-0.62],[24.33,-1.65],[24.41,-2],[24.5,-1.88],[24.58,-1.42],[24.75,-1.19],[24.92,-1.65],[25.01,-1.88],[25.09,-2.34],[25.14,-2],[25.22,-2.22],[25.29,-2.68],[25.35,-2.45],[25.44,-2.34],[25.52,-1.19],[25.6,-0.5],[25.72,-0.16],[25.85,-0.3],[25.95,-0.7],[26.05,-1]];

const pitchTarget: P[] = [[0,0],[0.68,0],[0.72,-1.75],[0.76,-1.01],[0.8,-0.64],[0.84,3.49],[0.87,1.38],[0.91,-1.19],[0.94,-0.83],[0.98,-0.09],[1.01,1.01],[1.04,-0.64],[1.09,-0.28],[1.13,-1.01],[1.17,-0.64],[1.23,-0.28],[1.27,-1.01],[1.32,-0.46],[1.38,-0.55],[1.44,-0.09],[1.49,0.28],[1.55,1.19],[1.59,-0.46],[1.63,0.37],[1.67,1.01],[1.71,0.18],[1.77,1.19],[1.82,-0.64],[1.88,-0.46],[1.93,-0.28],[2,1.1],[2.04,0],[2.08,-0.28],[2.12,0.37],[2.18,-0.09],[2.23,0.64],[2.29,-0.46],[2.36,0.09],[2.41,-0.64],[2.48,-0.28],[2.54,-0.74],[2.6,-1.1],[2.66,-0.28],[2.73,-0.83],[2.79,-0.09],[2.84,-0.28],[2.91,0],[2.99,-0.64],[3.06,-1.38],[3.12,-0.09],[3.17,0.28],[3.24,-0.46],[3.31,-0.74],[3.36,-0.46],[3.42,0.09],[3.49,0.28],[3.55,-0.18],[3.61,-0.64],[3.68,-1.47],[3.74,-1.01],[3.78,-0.37],[3.83,-0.09],[3.88,0.18],[3.94,0.46],[4,0.83],[4.07,0.74],[4.13,1.19],[4.19,1.01],[4.23,1.65],[4.3,1.1],[4.36,1.56],[4.4,1.65],[4.46,0.74],[4.52,0.55],[4.58,0.74],[4.64,1.01],[4.71,1.19],[4.77,1.47],[4.85,1.75],[4.91,1.56],[4.96,1.84],[5.02,1.19],[5.07,0.64],[5.12,0.37],[5.18,0.28],[5.24,0.37],[5.31,-0.09],[5.36,-0.37],[5.41,-0.64],[5.47,-0.55],[5.54,-0.64],[5.6,-0.28],[5.65,-0.09],[5.72,-0.37],[5.79,-0.55],[5.84,-0.09],[5.9,-0.28],[5.97,-0.09],[6.01,0.28],[6.07,0.09],[6.13,0.83],[6.19,-0.18],[6.24,0.46],[6.3,-1.75],[6.34,-0.64],[6.38,0.28],[6.45,-0.46],[6.5,0.37],[6.56,0.74],[6.63,0.09],[6.69,0.86],[6.73,-0.28],[6.78,-0.74],[6.83,0.09],[6.88,-0.46],[6.93,0.46],[6.98,0.28],[7.04,0.55],[7.08,0.46],[7.14,1.01],[7.19,1.56],[7.22,2.11],[7.27,1.65],[7.33,1.38],[7.37,2.02],[7.43,1.56],[7.48,1.29],[7.54,0.83],[7.58,0.46],[7.64,0.37],[7.7,0.46],[7.77,0.55],[7.83,0.46],[7.87,0.64],[7.93,0.28],[7.99,-0.09],[8.05,0.18],[8.12,0.46],[8.17,-0.83],[8.21,-0.28],[8.26,-1.01],[8.32,-0.74],[8.38,-1.1],[8.43,-0.92],[8.49,-1.19],[8.55,-1.29],[8.6,-1.38],[8.65,-1.01],[8.71,-1.1],[8.78,-1.29],[8.84,-0.92],[8.9,-1.1],[8.97,-1.56],[9.02,-1.1],[9.09,-0.83],[9.15,-0.64],[9.21,-1.01],[9.27,-0.83],[9.34,-0.55],[9.39,-1.38],[9.44,-0.64],[9.48,-0.09],[9.52,0.46],[9.56,0.37],[9.62,0.09],[9.69,-0.09],[9.74,0.46],[9.79,0.28],[9.85,0.64],[9.9,0.37],[9.95,0.83],[10.02,0.74],[10.06,1.01],[10.1,0.64],[10.17,0.92],[10.22,0.83],[10.31,0.64],[10.39,0.46],[10.45,0.74],[10.51,0.46],[10.55,1.01],[10.61,0.64],[10.68,0.83],[10.74,1.1],[10.8,1.29],[10.86,1.01],[10.93,1.1],[10.99,1.47],[11.05,1.29],[11.09,1.19],[11.16,0.83],[11.21,1.01],[11.26,0.46],[11.32,0.83],[11.38,-0.55],[11.42,-0.09],[11.46,0.46],[11.52,0.18],[11.57,0.28],[11.61,0.55],[11.67,-0.09],[11.73,-0.55],[11.79,-0.28],[11.85,-0.83],[11.9,-0.46],[11.96,-0.09],[12,1.01],[12.04,3.03],[12.08,3.58],[12.12,5.7],[12.17,5.42],[12.21,5.51],[12.26,5.61],[12.33,6.25],[12.41,5.51],[12.47,5.15],[12.51,3.95],[12.55,3.4],[12.59,4.14],[12.64,3.4],[12.68,5.06],[12.72,2.76],[12.76,1.19],[12.81,1.84],[12.85,2.48],[12.89,2.11],[12.94,1.19],[13,0.83],[13.12,1.19],[13.26,1.29],[13.38,1.47],[13.45,3.03],[13.49,3.95],[13.53,3.03],[13.58,2.21],[13.62,3.95],[13.66,4.14],[13.7,3.03],[13.75,2.57],[13.79,2.21],[13.83,1.75],[13.87,1.38],[13.92,2.48],[13.96,1.65],[14,0.46],[14.04,-1.47],[14.09,0.64],[14.13,2.11],[14.17,1.56],[14.21,2.48],[14.26,1.65],[14.3,3.03],[14.34,1.38],[14.39,2.3],[14.43,1.38],[14.47,2.48],[14.51,2.11],[14.56,1.56],[14.6,2.3],[14.64,1.38],[14.68,2.48],[14.73,1.56],[14.77,2.21],[14.81,1.29],[14.85,2.3],[14.9,1.56],[14.94,3.03],[14.98,1.93],[15.03,3.03],[15.07,0.83],[15.11,3.22],[15.24,3.22],[15.32,0.83],[15.37,-0.64],[15.41,0.83],[15.45,3.58],[15.48,1.19],[15.51,-1.38],[15.55,-1.93],[15.58,-3.4],[15.62,-2.48],[15.67,-2.85],[15.71,-3.95],[15.75,-4.32],[15.79,-2.48],[15.84,-3.22],[15.88,-2.3],[15.92,-2.85],[15.96,-1.75],[16.01,0.83],[16.05,-0.09],[16.09,0.64],[16.13,-0.64],[16.18,0.09],[16.22,0.64],[16.26,-0.09],[16.31,-0.46],[16.35,0.83],[16.39,-0.09],[16.43,0.46],[16.48,-0.83],[16.52,-0.09],[16.56,0.64],[16.6,-0.09],[16.65,1.01],[16.69,0.28],[16.73,0.64],[16.77,-0.28],[16.82,0.28],[16.86,-0.64],[16.9,0.46],[16.94,0.09],[16.99,1.19],[17.03,0.64],[17.07,1.38],[17.11,0.83],[17.16,1.75],[17.2,1.19],[17.24,1.56],[17.29,3.03],[17.33,2.67],[17.37,2.3],[17.41,2.85],[17.46,1.56],[17.5,2.48],[17.54,2.3],[17.59,2.85],[17.63,1.56],[17.67,2.48],[17.71,2.11],[17.8,2.67],[17.84,3.03],[17.88,2.85],[17.93,3.58],[17.97,4.14],[18.01,4.87],[18.05,5.06],[18.1,5.06],[18.14,4.69],[18.18,4.32],[18.23,3.77],[18.27,3.03],[18.31,2.48],[18.35,2.21],[18.4,2.02],[18.44,2.3],[18.48,2.21],[18.52,2.02],[18.57,2.48],[18.61,2.85],[18.65,3.4],[18.69,4.32],[18.74,4.87],[18.78,5.15],[18.82,5.61],[18.86,5.79],[18.91,5.51],[18.95,5.24],[18.99,4.87],[19.04,4.32],[19.08,3.86],[19.12,3.58],[19.16,3.49],[19.21,3.22],[19.25,2.67],[19.29,2.21],[19.33,1.56],[19.38,0.83],[19.42,0.28],[19.46,0.64],[19.51,1.01],[19.55,1.56],[19.59,2.11],[19.63,1.19],[19.68,0.83],[19.72,2.3],[19.76,1.47],[19.8,1.75],[19.85,0.83],[19.89,2.11],[19.93,1.29],[19.97,1.56],[20.02,1.75],[20.06,1.29],[20.1,1.93],[20.14,1.19],[20.19,2.21],[20.23,1.01],[20.27,1.75],[20.32,1.56],[20.36,0.83],[20.4,1.29],[20.44,1.38],[20.49,-0.09],[20.53,0.83],[20.57,1.56],[20.61,1.29],[20.66,0.83],[20.7,1.56],[20.74,1.38],[20.79,1.75],[20.83,1.01],[20.87,0.64],[20.91,1.56],[20.96,0.83],[21,-0.55],[21.04,0.09],[21.08,0.83],[21.17,0.46],[21.21,0.09],[21.25,0.28],[21.3,1.01],[21.34,1.29],[21.38,1.56],[21.42,1.47],[21.47,1.01],[21.51,0.46],[21.55,-0.28],[21.6,-1.38],[21.64,-2.48],[21.68,-3.4],[21.72,-3.58],[21.77,-3.22],[21.81,-2.67],[21.85,-2.11],[21.89,-1.75],[21.94,-1.19],[21.98,-0.64],[22.02,-0.55],[22.06,-1.01],[22.11,-0.09],[22.15,0.46],[22.19,0.83],[22.24,1.38],[22.28,1.93],[22.32,2.02],[22.36,2.67],[22.41,3.77],[22.45,4.14],[22.49,4.04],[22.53,3.4],[22.58,3.03],[22.62,2.85],[22.66,3.58],[22.7,3.03],[22.75,1.38],[22.79,0.64],[22.83,1.19],[22.87,0.09],[22.92,-0.09],[22.96,-1.38],[23,-0.46],[23.05,-0.83],[23.09,-0.09],[23.17,-0.28],[23.22,0.28],[23.26,-0.09],[23.3,0.64],[23.39,1.01],[23.43,1.56],[23.47,1.19],[23.52,1.93],[23.56,1.56],[23.6,1.19],[23.64,2.67],[23.69,1.75],[23.73,2.85],[23.77,1.93],[23.81,2.02],[23.86,3.4],[23.9,3.95],[23.94,5.97],[23.98,5.88],[24.03,5.51],[24.07,5.97],[24.11,5.61],[24.16,5.79],[24.2,6.07],[24.24,5.97],[24.28,5.51],[24.33,5.24],[24.37,4.87],[24.41,4.23],[24.45,3.58],[24.5,4.14],[24.54,4.32],[24.58,3.86],[24.62,3.4],[24.67,2.85],[24.71,2.48],[24.75,2.21],[24.8,1.93],[24.84,1.38],[24.88,0.83],[24.92,0.46],[24.97,-0.09],[25.01,0.09],[25.05,0.46],[25.09,-0.28],[25.14,-0.83],[25.18,0.09],[25.22,0.28],[25.26,-0.28],[25.31,0.09],[25.35,0.28],[25.39,0.64],[25.43,1.56],[25.48,2.11],[25.52,1.75],[25.56,1.93],[25.6,1.19],[25.65,1.47],[25.72,1.29],[25.85,1.4],[25.95,1.8],[26.05,2.3]];

const pitchMeasured: P[] = [[0,0],[0.1,0],[0.18,-0.09],[0.25,-0.28],[0.31,-1.01],[0.36,-1.65],[0.43,-1.56],[0.51,-1.47],[0.58,-1.38],[0.64,-1.56],[0.7,-1.93],[0.76,-2.08],[0.83,-2.3],[0.88,-2.94],[0.94,-2.48],[1.01,-2.02],[1.07,-1.56],[1.13,-1.16],[1.17,-1.38],[1.23,-1.84],[1.3,-2.3],[1.36,-2.54],[1.42,-2.3],[1.49,-2.02],[1.55,-1.97],[1.61,-2.02],[1.67,-2.02],[1.74,-2.39],[1.79,-2.67],[1.85,-1.93],[1.9,-1.19],[1.96,-0.46],[2.02,-0.33],[2.07,-0.09],[2.12,0.64],[2.18,1.19],[2.23,1.01],[2.29,-0.09],[2.33,-0.74],[2.39,-0.28],[2.45,0],[2.5,-0.18],[2.54,-0.74],[2.6,-1.19],[2.66,-1.29],[2.74,-1.01],[2.83,-0.74],[2.91,-0.55],[2.99,-0.09],[3.03,0.09],[3.07,-0.18],[3.16,-0.64],[3.24,-0.37],[3.31,-0.09],[3.36,0.61],[3.45,0.68],[3.53,0.46],[3.61,-0.46],[3.68,-1.01],[3.74,-2.3],[3.78,-2.11],[3.83,-1.65],[3.9,-1.01],[3.98,-0.64],[4.07,-0.83],[4.12,-1.01],[4.19,-0.46],[4.27,0.55],[4.31,1.1],[4.4,0.55],[4.48,0],[4.56,-0.46],[4.66,-0.83],[4.74,-0.55],[4.83,0.18],[4.91,1.19],[4.98,0.74],[5.02,0.37],[5.07,0.83],[5.14,1.47],[5.22,2.21],[5.26,1.38],[5.31,0.37],[5.39,-0.74],[5.47,-0.92],[5.55,-0.46],[5.64,-0.28],[5.72,-1.01],[5.8,-0.64],[5.88,-0.46],[5.97,-0.37],[6.05,0.46],[6.12,0.92],[6.17,0.46],[6.23,-0.09],[6.3,-0.74],[6.36,-1.19],[6.42,-1.29],[6.46,-1.1],[6.55,-0.28],[6.63,-0.18],[6.67,-0.64],[6.71,-0.18],[6.78,-1.19],[6.83,-1.38],[6.92,-1.75],[6.98,-1.38],[7.04,-1.1],[7.12,-0.46],[7.21,-0.09],[7.29,0.64],[7.37,1.19],[7.41,1.29],[7.5,1.19],[7.58,0.83],[7.66,0.55],[7.74,0.74],[7.83,0.64],[7.91,0.37],[7.99,0.64],[8.07,0.74],[8.16,1.01],[8.24,1.56],[8.28,1.89],[8.36,1.38],[8.45,0.83],[8.53,0.37],[8.61,-0.37],[8.69,-0.37],[8.78,-0.09],[8.86,0.28],[8.94,0.09],[9.02,-0.28],[9.11,-0.46],[9.19,-0.46],[9.27,-0.55],[9.36,-0.28],[9.44,-0.37],[9.52,-1.19],[9.6,-0.64],[9.69,-0.09],[9.77,0.37],[9.85,0],[9.93,0.09],[10.02,-0.18],[10.1,0.09],[10.18,0.28],[10.26,0.55],[10.35,0.74],[10.43,-0.09],[10.51,-0.74],[10.6,-1.1],[10.68,-0.64],[10.76,-0.28],[10.84,-0.09],[10.93,-0.18],[11.01,0.18],[11.09,0.83],[11.13,0.97],[11.17,0.64],[11.26,-0.18],[11.34,-0.55],[11.5,-0.74],[11.59,-1.38],[11.67,-1.93],[11.75,-2.3],[11.83,-1.84],[11.92,-1.19],[12,-1.01],[12.08,-0.46],[12.17,1.01],[12.25,3.22],[12.29,4.32],[12.35,4.14],[12.41,3.03],[12.47,2.21],[12.51,1.75],[12.55,1.93],[12.61,2.7],[12.66,2.21],[12.72,0.46],[12.78,0.18],[12.83,0.37],[12.89,0],[12.95,0.09],[13.02,-0.55],[13.09,-1.19],[13.15,-1.47],[13.19,-1.01],[13.23,-0.46],[13.28,0.28],[13.34,0.83],[13.4,0.92],[13.49,0.83],[13.58,1.29],[13.63,1.65],[13.7,1.38],[13.77,1.47],[13.83,1.38],[13.92,1.01],[14,0.83],[14.09,0.37],[14.13,0.09],[14.17,0.18],[14.23,0.46],[14.37,0.46],[14.54,0.5],[14.66,0.74],[14.73,1.01],[14.9,1.1],[15.05,0.92],[15.18,1.29],[15.26,1.65],[15.32,1.29],[15.39,-0.09],[15.45,-2.11],[15.49,-2.02],[15.54,-1.01],[15.58,-0.09],[15.62,-0.37],[15.67,-1.75],[15.71,-2.85],[15.77,-3.22],[15.84,-3.95],[15.9,-3.58],[15.96,-3.13],[16.02,-2.48],[16.09,-1.75],[16.16,-1.1],[16.22,-0.64],[16.28,-0.59],[16.35,-0.74],[16.42,-1.01],[16.5,-0.83],[16.59,-0.64],[16.67,-0.46],[16.76,-0.28],[16.84,-0.09],[16.93,0.28],[16.99,0.55],[17.07,0.83],[17.13,1.1],[17.18,1.19],[17.24,0.83],[17.3,0.83],[17.37,1.19],[17.46,-0.09],[17.5,-0.28],[17.56,0.64],[17.63,0.92],[17.71,1.01],[17.77,1.19],[17.84,1.84],[17.9,2.67],[17.97,3.4],[18.04,4.14],[18.1,4.87],[18.14,5.61],[18.19,5.7],[18.24,5.24],[18.29,4.32],[18.35,3.58],[18.41,3.03],[18.48,2.67],[18.55,2.21],[18.59,1.75],[18.63,1.56],[18.69,1.75],[18.75,2.57],[18.81,3.58],[18.87,4.87],[18.91,5.7],[18.95,5.94],[18.99,5.61],[19.04,5.33],[19.12,4.87],[19.21,4.14],[19.29,3.58],[19.38,2.85],[19.46,2.3],[19.55,1.38],[19.61,0.46],[19.66,-0.74],[19.72,-1.38],[19.76,-1.1],[19.81,0.09],[19.85,0.83],[19.89,1.93],[19.96,2.57],[20.02,2.76],[20.19,2.85],[20.32,2.57],[20.44,2.3],[20.49,1.65],[20.55,0.83],[20.59,0.37],[20.63,0.55],[20.74,1.1],[20.79,0.92],[20.85,0.55],[20.91,0.83],[20.97,1.19],[21.04,1.47],[21.13,1.47],[21.19,1.19],[21.25,1.38],[21.34,1.29],[21.42,0.83],[21.48,0.64],[21.53,0.37],[21.59,0.09],[21.64,-0.28],[21.68,-1.01],[21.72,-2.11],[21.77,-3.22],[21.81,-4.14],[21.85,-3.58],[21.89,-3.03],[21.96,-2.48],[22.02,-2.02],[22.11,-1.38],[22.19,-0.46],[22.28,0.46],[22.36,1.29],[22.45,1.75],[22.52,2.21],[22.58,2.67],[22.62,3.13],[22.66,2.85],[22.73,2.11],[22.79,1.38],[22.85,0.64],[22.92,-0.28],[22.98,-0.64],[23.05,-0.74],[23.11,-1.19],[23.17,-1.56],[23.24,-1.47],[23.3,-1.19],[23.36,-0.92],[23.43,-0.83],[23.56,-0.55],[23.64,-0.83],[23.69,-1.29],[23.75,-1.38],[23.81,-1.19],[23.9,-1.47],[23.96,-0.83],[24.01,-0.28],[24.04,0.83],[24.1,3.03],[24.16,4.5],[24.22,5.06],[24.28,5.42],[24.34,5.7],[24.41,5.51],[24.5,5.33],[24.58,5.24],[24.67,4.78],[24.75,4.32],[24.84,3.58],[24.88,3.03],[24.92,2.48],[24.97,1.19],[25.03,0.18],[25.08,0.09],[25.14,-0.83],[25.2,-1.01],[25.25,-0.46],[25.29,-0.28],[25.33,0.18],[25.39,0.74],[25.45,1.65],[25.52,1.29],[25.58,1.01],[25.65,0.92],[25.72,0.74],[25.8,-0.2],[25.88,-1.5],[25.95,-2],[26.05,-1.9]];

const altTarget: P[] = [[0,0.5],[2.06,0.5],[2.08,0.456],[2.16,0.477],[4.52,0.477],[4.53,0.385],[4.54,NaN],[8.1,0.25],[9.24,0.25]];

const altMeasured: P[] = [[0,0.04],[0.3,0.04],[0.5,0.11],[0.8,0.21],[1.13,0.306],[1.46,0.381],[1.79,0.429],[2.08,0.456],[2.33,0.483],[2.54,0.474],[2.87,0.43],[3.29,0.395],[3.7,0.39],[4.12,0.388],[4.62,0.381],[4.95,0.354],[5.37,0.327],[5.7,0.324],[6.03,0.347],[6.36,0.4],[6.69,0.453],[6.94,0.429],[7.28,0.374],[7.61,0.32],[7.94,0.268],[8.27,0.245],[8.6,0.235],[9.1,0.241],[9.27,0.258],[9.6,0.32],[9.85,0.34],[10.1,0.34],[10.43,0.367],[10.85,0.422],[11.26,0.442],[11.51,0.463],[11.76,0.504],[12.09,0.559],[12.43,0.586],[12.84,0.6],[13.09,0.62],[13.42,0.654],[13.75,0.674],[14.09,0.709],[14.42,0.736],[14.67,0.756],[14.92,0.795],[15.17,0.818],[15.38,0.849],[15.63,0.87],[15.83,0.855],[16.0,0.838],[16.25,0.781],[16.49,0.811],[16.91,0.811],[17.24,0.804],[17.57,0.781],[17.9,0.777],[18.23,0.756],[18.48,0.722],[18.9,0.704],[19.24,0.674],[19.57,0.6],[19.82,0.572],[20.23,0.552],[20.65,0.531],[21.06,0.511],[21.4,0.493],[21.73,0.531],[21.98,0.579],[22.23,0.64],[22.48,0.677],[22.72,0.684],[23.06,0.672],[23.39,0.668],[23.8,0.684],[24.14,0.668],[24.47,0.627],[24.72,0.586],[25.05,0.511],[25.38,0.47],[25.68,0.43],[26.05,0.39]];

// ---------------- style / layout ----------------
const FONT = '"Liberation Serif", "Times New Roman", Times, serif';
const MATH = '"DejaVu Sans", sans-serif';
const OLIVE = '#8c6b1e';
const TEAL = '#175b60';
const RED = '#b23a2e';
const GRID = '#e6e6e6';
const AXIS = '#222222';

const W = 1411;
const H = 1609;
const X0 = 119;
const X1 = 1410;
const TOP0 = 4;
const STEP = 261.8;
const AH = 224.8;
const LW = 1.8;
const DASH = '7,3';

interface Series { data: P[]; color: string; dash?: string; smooth?: boolean }
interface LegendItem { label: string; color: string; dash?: string; hx: number; tx: number }
interface Panel {
  domain: [number, number];
  ticks: number[];
  fmt: (v: number) => string;
  series: Series[];
  label1: React.ReactNode;
  label2: string;
  lx: [number, number];
  legend?: { y: number; items: LegendItem[] };
}

const f1 = d3.format('.1f');
const f0 = d3.format('d');

const mathV = (sub: string) => (
  <>
    {'body '}
    <tspan fontFamily={MATH} fontStyle="italic" fontSize={20}>v</tspan>
    <tspan fontFamily={MATH} fontStyle="italic" fontSize={14} dy={4}>{sub}</tspan>
  </>
);

const panels: Panel[] = [
  {
    domain: [-1.1, 1.1], ticks: rcTicks, fmt: f1,
    series: [
      { data: rollStick, color: OLIVE },
      { data: pitchStick, color: TEAL },
      { data: throttle, color: RED },
    ],
    label1: 'RC input', label2: '[-1, 1]', lx: [18.5, 41],
    legend: {
      y: 30,
      items: [
        { label: 'roll stick', color: OLIVE, hx: 944, tx: 999 },
        { label: 'pitch stick', color: TEAL, hx: 1106, tx: 1163 },
        { label: 'throttle', color: RED, hx: 1281, tx: 1336 },
      ],
    },
  },
  {
    domain: [-0.795, 0.76], ticks: vxTicks, fmt: f1,
    series: [
      { data: vxTarget, color: RED, dash: DASH },
      { data: vxMeasured, color: TEAL },
    ],
    label1: mathV('x'), label2: '[m/s]', lx: [16.5, 43],
    legend: {
      y: 291,
      items: [
        { label: 'target', color: RED, dash: DASH, hx: 1126, tx: 1180 },
        { label: 'measured', color: TEAL, hx: 1261, tx: 1318 },
      ],
    },
  },
  {
    domain: [-0.69, 0.86], ticks: vyTicks, fmt: f1,
    series: [
      { data: vyTarget, color: RED, dash: DASH },
      { data: vyMeasured, color: TEAL },
    ],
    label1: mathV('y'), label2: '[m/s]', lx: [14.5, 43],
  },
  {
    domain: [-7.87, 7.73], ticks: rollTicks, fmt: f0,
    series: [
      { data: rollTarget, color: RED, dash: DASH },
      { data: rollMeasured, color: TEAL, smooth: true },
    ],
    label1: 'roll', label2: '[deg]', lx: [34, 57.5],
  },
  {
    domain: [-5.56, 6.8], ticks: pitchTicks, fmt: f1,
    series: [
      { data: pitchTarget, color: RED, dash: DASH },
      { data: pitchMeasured, color: TEAL, smooth: true },
    ],
    label1: 'pitch', label2: '[deg]', lx: [18.5, 42],
  },
  {
    domain: [-0.002, 0.917], ticks: altTicks, fmt: f1,
    series: [
      { data: altTarget, color: RED, dash: DASH },
      { data: altMeasured, color: TEAL, smooth: true },
    ],
    label1: 'altitude', label2: '[m]', lx: [29, 53.5],
  },
];

export default function App() {
  const x = d3.scaleLinear().domain([0, timeMax]).range([X0, X1]);
  return (
    <svg
      width={W}
      height={H}
      viewBox={`0 0 ${W} ${H}`}
      style={{ position: 'absolute', left: 0, top: 0, background: '#fff' }}
      fontFamily={FONT}
    >
      <rect x={0} y={0} width={W} height={H} fill="#fff" />
      {panels.map((p, i) => {
        const top = TOP0 + i * STEP;
        const bottom = top + AH;
        const y = d3.scaleLinear().domain(p.domain).range([bottom, top]);
        const cy = (top + bottom) / 2;
        const clipId = `clip${i}`;
        const isLast = i === panels.length - 1;
        return (
          <g key={i}>
            <defs>
              <clipPath id={clipId}>
                <rect x={X0} y={top - 2} width={X1 - X0 + 2} height={AH + 4} />
              </clipPath>
            </defs>
            {timeTicks.map((t) => (
              <line key={'gx' + t} x1={x(t)} x2={x(t)} y1={top} y2={bottom} stroke={GRID} strokeWidth={1} />
            ))}
            {p.ticks.map((v) => (
              <line key={'gy' + v} x1={X0} x2={X1} y1={y(v)} y2={y(v)} stroke={GRID} strokeWidth={1} />
            ))}
            <g clipPath={`url(#${clipId})`}>
              {p.series.map((s, k) => {
                const gen = d3
                  .line<P>()
                  .defined((d) => !isNaN(d[1]))
                  .x((d) => x(d[0]))
                  .y((d) => y(d[1]));
                if (s.smooth) gen.curve(d3.curveMonotoneX);
                return (
                  <path
                    key={k}
                    d={gen(s.data) || ''}
                    fill="none"
                    stroke={s.color}
                    strokeWidth={LW}
                    strokeDasharray={s.dash}
                    strokeLinejoin="round"
                    strokeLinecap={s.dash ? 'butt' : 'round'}
                  />
                );
              })}
            </g>
            <line x1={X0} x2={X0} y1={top} y2={bottom} stroke={AXIS} strokeWidth={1.7} />
            <line x1={X0 - 0.85} x2={X1} y1={bottom} y2={bottom} stroke={AXIS} strokeWidth={1.7} />
            {p.ticks.map((v) => (
              <g key={'ty' + v}>
                <line x1={X0 - 8} x2={X0} y1={y(v)} y2={y(v)} stroke={AXIS} strokeWidth={1.6} />
                <text x={101} y={y(v)} textAnchor="end" dominantBaseline="central" fontSize={19} fill="#000">
                  {p.fmt(v)}
                </text>
              </g>
            ))}
            {timeTicks.map((t) => (
              <g key={'tx' + t}>
                <line x1={x(t)} x2={x(t)} y1={bottom} y2={bottom + 8} stroke={AXIS} strokeWidth={1.6} />
                {isLast && (
                  <text x={x(t)} y={bottom + 28} textAnchor="middle" dominantBaseline="central" fontSize={19} fill="#000">
                    {f0(t)}
                  </text>
                )}
              </g>
            ))}
            <text
              transform={`translate(${p.lx[0]},${cy}) rotate(-90)`}
              textAnchor="middle"
              dominantBaseline="central"
              fontSize={21}
              fill="#000"
            >
              {p.label1}
            </text>
            <text
              transform={`translate(${p.lx[1]},${cy}) rotate(-90)`}
              textAnchor="middle"
              dominantBaseline="central"
              fontSize={21}
              fill="#000"
            >
              {p.label2}
            </text>
            {p.legend &&
              p.legend.items.map((it) => (
                <g key={it.label}>
                  <line
                    x1={it.hx}
                    x2={it.hx + 41}
                    y1={p.legend!.y}
                    y2={p.legend!.y}
                    stroke={it.color}
                    strokeWidth={LW}
                    strokeDasharray={it.dash}
                  />
                  <text x={it.tx} y={p.legend!.y} dominantBaseline="central" fontSize={19} fill="#000">
                    {it.label}
                  </text>
                </g>
              ))}
            {isLast && (
              <text x={(X0 + X1) / 2} y={bottom + 56} textAnchor="middle" dominantBaseline="central" fontSize={21} fill="#000">
                time [s]
              </text>
            )}
          </g>
        );
      })}
    </svg>
  );
}
